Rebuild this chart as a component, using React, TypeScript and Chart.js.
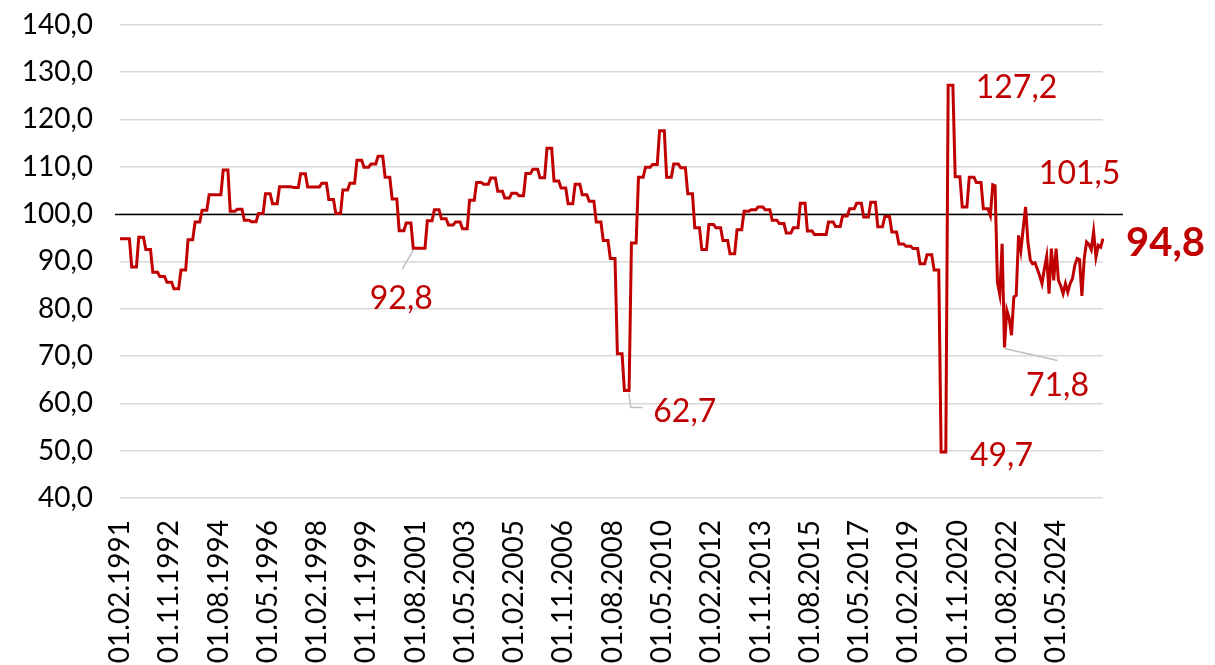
import { useEffect, useRef } from 'react';
import { Chart, registerables } from 'chart.js';

Chart.register(...registerables);

// ---------- data ----------
const START_YEAR = 1991;
const START_MONTH = 2; // first observation: 01.02.1991
const LABEL_STEP = 21; // a tick label every 21 months
const REFERENCE_LEVEL = 100;
const Y_MIN = 40;
const Y_MAX = 140;
const Y_STEP = 10;

// quarterly readings (Q1 1991 covers Feb–Mar only)
const quarterly1991to1999 = [
  94.8, 94.8, 88.8, 95.1, 92.5, 87.7, 86.8, 85.6, 84.2, 88.2, 94.6, 98.3,
  100.8, 104.1, 104.1, 109.3, 100.6, 101.0, 98.7, 98.4, 100.1, 104.3, 102.2, 105.8,
  105.8, 105.6, 108.5, 105.7, 105.7, 106.5, 103.1, 100.1, 105.1, 106.5, 111.4, 109.9,
];
const quarterly2000to2008 = [
  110.6, 112.2, 107.8, 103.2, 96.5, 98.1, 92.8, 92.8, 98.6, 100.9, 99.0, 97.7,
  98.3, 96.9, 102.9, 106.7, 106.3, 107.6, 104.8, 103.4, 104.4, 103.9, 108.6, 109.5,
  107.7, 113.9, 107.0, 105.5, 102.2, 106.3, 104.1, 102.7, 98.3, 94.4, 90.6, 70.5,
];
const quarterly2009to2017 = [
  62.7, 93.9, 107.8, 109.9, 110.5, 117.6, 107.8, 110.6, 109.8, 104.3, 97.1, 92.5,
  97.8, 97.1, 94.4, 91.6, 96.7, 100.6, 100.9, 101.5, 100.9, 98.7, 98.0, 96.0,
  97.1, 102.3, 96.4, 95.7, 95.7, 98.3, 97.4, 99.6, 101.1, 102.3, 99.4, 102.5,
];
const quarterly2018to2021 = [
  97.3, 99.5, 96.2, 93.7, 93.2, 92.7, 89.5, 91.4, 88.2, 49.7, 127.2, 107.9,
  101.5, 107.8, 106.7, 101.1,
];
// monthly readings Jan 2022 – Jan 2026
const monthly2022to2026 = [
  99.7, 106.2, 106.0, 85.6, 83.0, 93.7, 71.8, 79.7, 78.0, 74.4, 82.5, 82.8,
  95.5, 92.3, 97.0, 101.5, 94.1, 90.3, 89.5, 89.7, 88.4, 87.0, 85.3, 88.4,
  91.1, 83.2, 92.7, 86.0, 92.7, 86.0, 84.8, 83.2, 85.3, 83.5, 85.3, 86.4,
  89.2, 90.6, 90.4, 82.7, 90.6, 94.1, 93.6, 92.5, 96.3, 90.9, 93.4, 93.0,
  94.8,
];

const quarterlyValues = [
  ...quarterly1991to1999,
  ...quarterly2000to2008,
  ...quarterly2009to2017,
  ...quarterly2018to2021,
];

// quarterly values hold for each month of their quarter
const series: number[] = [];
for (let m = 0; m < quarterlyValues.length * 3 - 1; m++) {
  series.push(quarterlyValues[Math.floor((m + 1) / 3)]);
}
series.push(...monthly2022to2026);

const labels: string[] = series.map((_, i) => {
  const t = START_MONTH - 1 + i;
  const y = START_YEAR + Math.floor(t / 12);
  const mo = (t % 12) + 1;
  return `01.${String(mo).padStart(2, '0')}.${y}`;
});

const fmt = (v: number) => v.toFixed(1).replace('.', ',');

// callouts: which point, where the text sits relative to it, optional leader
const callouts = [
  { index: 125, dx: -12, dy: 49, leader: [[0, 2], [-11, 21]] },
  { index: 216, dx: 58, dy: 20, leader: [[2, 2], [4, 17], [16, 17]] },
  { index: 351, dx: 58, dy: 2, leader: null },
  { index: 354, dx: 66, dy: 1, leader: null },
  { index: 386, dx: 54, dy: -34, leader: null },
  { index: 377, dx: 53, dy: 37, leader: [[0, 1], [53, 13]] },
];
const lastCallout = { index: series.length - 1, dx: 23, dy: 3 };

// ---------- style ----------
const RED = '#C00000';
const CANVAS_W = 1215;
const CANVAS_H = 720;
const CANVAS_SHIFT = 19; // canvas is lifted so the plot spans page y 24..498
const PLOT_BOTTOM = 498 + CANVAS_SHIFT;
const FONT = 'Lato, "Open Sans", sans-serif';

const overlay = {
  id: 'overlay',
  beforeDatasetsDraw(chart: any) {
    const { ctx, chartArea, scales } = chart;
    const y = Math.round(scales.y.getPixelForValue(REFERENCE_LEVEL)) + 0.5;
    ctx.save();
    ctx.strokeStyle = '#000';
    ctx.lineWidth = 1.3;
    ctx.beginPath();
    ctx.moveTo(chartArea.left - 5, y);
    ctx.lineTo(chartArea.right + 20, y);
    ctx.stroke();
    ctx.restore();
  },
  afterDatasetsDraw(chart: any) {
    const { ctx, scales } = chart;
    ctx.save();
    for (const c of callouts) {
      const px = scales.x.getPixelForValue(c.index);
      const py = scales.y.getPixelForValue(series[c.index]);
      if (c.leader) {
        ctx.strokeStyle = '#BFBFBF';
        ctx.lineWidth = 1.5;
        ctx.beginPath();
        c.leader.forEach(([lx, ly], k) => {
          if (k === 0) ctx.moveTo(px + lx, py + ly);
          else ctx.lineTo(px + lx, py + ly);
        });
        ctx.stroke();
      }
      ctx.fillStyle = RED;
      ctx.font = `32px ${FONT}`;
      ctx.textAlign = 'center';
      ctx.textBaseline = 'alphabetic';
      ctx.fillText(fmt(series[c.index]), px + c.dx, py + c.dy + 11.5);
    }
    {
      const px = scales.x.getPixelForValue(lastCallout.index);
      const py = scales.y.getPixelForValue(series[lastCallout.index]);
      ctx.fillStyle = RED;
      ctx.font = `bold 40px ${FONT}`;
      ctx.textAlign = 'left';
      ctx.textBaseline = 'alphabetic';
      ctx.fillText(fmt(series[lastCallout.index]), px + lastCallout.dx, py + lastCallout.dy + 14.5);
    }
    ctx.restore();
  },
};

export default function App() {
  const ref = useRef<HTMLCanvasElement | null>(null);

  useEffect(() => {
    if (!ref.current) return;
    const chart = new Chart(ref.current, {
      type: 'line',
      data: {
        labels,
        datasets: [
          {
            data: series,
            borderColor: RED,
            borderWidth: 3,
            pointRadius: 0,
            tension: 0,
            fill: false,
          },
        ],
      },
      options: {
        animation: false,
        responsive: false,
        devicePixelRatio: 1,
        layout: { padding: { left: 0, right: 112, top: 5, bottom: 0 } },
        plugins: {
          legend: { display: false },
          tooltip: { enabled: false },
          title: { display: false },
        },
        scales: {
          x: {
            type: 'category',
            offset: false,
            grid: { display: false, drawTicks: false },
            border: { display: false },
            ticks: {
              autoSkip: false,
              minRotation: 90,
              maxRotation: 90,
              padding: 22,
              color: '#000',
              font: { family: FONT, size: 28 },
              callback(this: any, value: any, index: number) {
                return index % LABEL_STEP === 0 ? this.getLabelForValue(value) : null;
              },
            },
            afterFit(scale: any) {
              scale.height = CANVAS_H - PLOT_BOTTOM;
            },
          },
          y: {
            min: Y_MIN,
            max: Y_MAX,
            grid: { color: '#D9D9D9', lineWidth: 1.5, drawTicks: false },
            border: { display: false },
            ticks: {
              stepSize: Y_STEP,
              padding: 27,
              color: '#000',
              font: { family: FONT, size: 28 },
              callback: (v: any) => fmt(Number(v)),
            },
            afterFit(scale: any) {
              scale.width = 120;
            },
          },
        },
      },
      plugins: [overlay],
    } as any);
    return () => chart.destroy();
  }, []);

  return (
    <div
      style={{
        position: 'fixed',
        left: 0,
        top: 0,
        width: CANVAS_W,
        height: 665,
        overflow: 'hidden',
        background: '#fff',
      }}
    >
      <canvas
        ref={ref}
        width={CANVAS_W}
        height={CANVAS_H}
        style={{
          width: CANVAS_W,
          height: CANVAS_H,
          display: 'block',
          position: 'absolute',
          left: 0,
          top: -CANVAS_SHIFT,
        }}
      />
    </div>
  );
}
